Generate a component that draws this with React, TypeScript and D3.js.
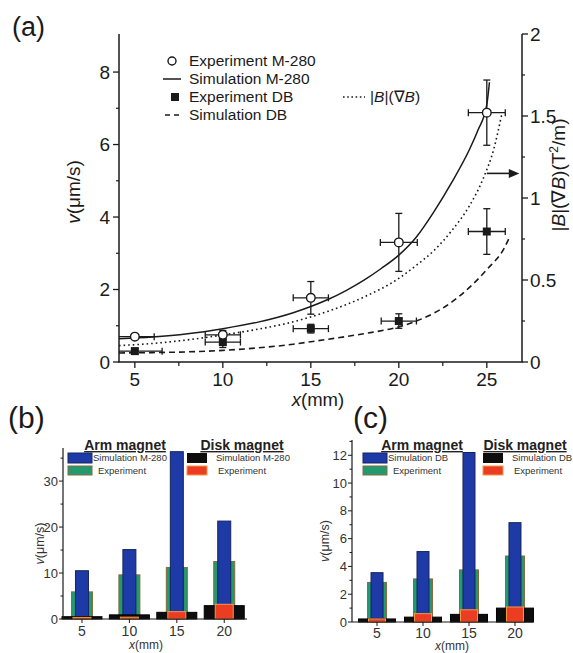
import React from "react";
import * as d3 from "d3";

// ---------- Panel (a) data ----------
const A_X_TICKS = [5, 10, 15, 20, 25];
const A_X_MINOR = [7.5, 12.5, 17.5, 22.5];
const A_LEFT_TICKS = [0, 2, 4, 6, 8];
const A_LEFT_MINOR = [1, 3, 5, 7];
const A_RIGHT_TICKS = [0, 0.5, 1, 1.5, 2];
const A_RIGHT_MINOR = [0.25, 0.75, 1.25, 1.75];

const EXP_X = [5, 10, 15, 20, 25];
const M280_Y = [0.7, 0.75, 1.77, 3.3, 6.88];
const M280_YERR = [0.06, 0.12, 0.45, 0.8, 0.9];
const M280_XERR = [1.1, 1.0, 1.0, 1.05, 1.05];
const DB_Y = [0.3, 0.55, 0.92, 1.13, 3.6];
const DB_YERR = [0.08, 0.15, 0.12, 0.2, 0.63];
const DB_XERR = [1.55, 1.0, 1.0, 1.0, 1.05];

const SIM_M280_X = [4.1, 6, 8, 10, 12, 14, 15, 16, 17, 18, 19, 20, 21, 22, 23, 24, 24.5, 25, 25.15];
const SIM_M280_Y = [0.64, 0.69, 0.78, 0.92, 1.1, 1.36, 1.53, 1.73, 1.97, 2.25, 2.58, 2.95, 3.45, 4.15, 4.95, 5.85, 6.4, 7.1, 7.72];
const BGRAD_X = [4.1, 6, 8, 10, 12, 14, 15, 16, 18, 20, 21, 22, 23, 24, 24.8, 25.4, 25.85];
const BGRAD_Y = [0.1, 0.113, 0.135, 0.165, 0.2, 0.245, 0.275, 0.31, 0.395, 0.51, 0.59, 0.68, 0.8, 0.95, 1.12, 1.3, 1.51];
const SIM_DB_X = [4.1, 6, 8, 10, 12, 14, 15, 16, 18, 20, 21, 22, 23, 24, 25, 26, 26.3];
const SIM_DB_Y = [0.25, 0.26, 0.28, 0.32, 0.39, 0.49, 0.56, 0.63, 0.78, 0.97, 1.13, 1.35, 1.65, 2.05, 2.55, 3.15, 3.45];

// ---------- Panel (b) data ----------
const BAR_X = [5, 10, 15, 20];
const B_ARM_SIM = [10.5, 15.1, 36.4, 21.3];
const B_ARM_EXP = [5.9, 9.6, 11.2, 12.5];
const B_DISK_SIM = [0.5, 0.9, 1.45, 2.9];
const B_DISK_EXP = [0.35, 0.4, 1.6, 3.2];
const B_Y_TICKS = [0, 10, 20, 30];
const B_Y_MINOR = [5, 15, 25, 35];

// ---------- Panel (c) data ----------
const C_ARM_SIM = [3.55, 5.07, 12.2, 7.15];
const C_ARM_EXP = [2.85, 3.1, 3.75, 4.75];
const C_DISK_SIM = [0.22, 0.35, 0.55, 1.0];
const C_DISK_EXP = [0.22, 0.6, 0.88, 1.08];
const C_Y_TICKS = [0, 2, 4, 6, 8, 10, 12];
const C_Y_MINOR = [1, 3, 5, 7, 9, 11, 13];

const FONT = "'Liberation Sans', Arial, Helvetica, sans-serif";
const INK = "#1a1a1a";

const COL_BLUE = "#1e3aa6";
const COL_BLUE_STROKE = "#16245e";
const COL_GREEN = "#23996f";
const COL_GREEN_STROKE = "#8a6a3a";
const COL_BLACK = "#0d0d0d";
const COL_RED = "#ec3d22";
const COL_RED_STROKE = "#f59a4a";

function PanelA() {
  const x = d3.scaleLinear().domain([4.1, 27]).range([119, 522]);
  const yL = d3.scaleLinear().domain([0, 9.05]).range([362, 34]);
  const yR = d3.scaleLinear().domain([0, 2]).range([362, 34]);

  const mkPath = (xs: number[], ys: number[], sc: d3.ScaleLinear<number, number>) =>
    d3
      .line<number>()
      .x((d, i) => x(xs[i]))
      .y((d) => sc(d))
      .curve(d3.curveMonotoneX)(ys) || "";

  const xMin = 4.1;
  const errBars = (ys: number[], yerr: number[], xerr: number[], key: string) =>
    EXP_X.map((xv, i) => {
      const cx = x(xv);
      const cy = yL(ys[i]);
      const y1 = yL(ys[i] + yerr[i]);
      const y2 = yL(ys[i] - yerr[i]);
      const xl = Math.max(xMin, xv - xerr[i]);
      const x1 = x(xl);
      const x2 = x(xv + xerr[i]);
      return (
        <g key={key + i} stroke={INK} strokeWidth={1.3}>
          <line x1={cx} x2={cx} y1={y1} y2={y2} />
          <line x1={cx - 3.5} x2={cx + 3.5} y1={y1} y2={y1} />
          <line x1={cx - 3.5} x2={cx + 3.5} y1={y2} y2={y2} />
          <line x1={x1} x2={x2} y1={cy} y2={cy} />
          {xl > xMin && <line x1={x1} x2={x1} y1={cy - 3.5} y2={cy + 3.5} />}
          <line x1={x2} x2={x2} y1={cy - 3.5} y2={cy + 3.5} />
        </g>
      );
    });

  const arrowY = yR(1.15);

  return (
    <g fontFamily={FONT} fill={INK}>
      <text x={12} y={36} fontSize={27}>(a)</text>

      {/* curves */}
      <path d={mkPath(SIM_M280_X, SIM_M280_Y, yL)} fill="none" stroke={INK} strokeWidth={1.5} />
      <path d={mkPath(BGRAD_X, BGRAD_Y, yR)} fill="none" stroke={INK} strokeWidth={1.6} strokeDasharray="1.6,3" />
      <path d={mkPath(SIM_DB_X, SIM_DB_Y, yL)} fill="none" stroke={INK} strokeWidth={1.6} strokeDasharray="6,4" />

      {/* error bars and markers */}
      {errBars(DB_Y, DB_YERR, DB_XERR, "db")}
      {errBars(M280_Y, M280_YERR, M280_XERR, "m")}
      {EXP_X.map((xv, i) => (
        <rect key={"sq" + i} x={x(xv) - 4} y={yL(DB_Y[i]) - 4} width={8} height={8} fill={INK} />
      ))}
      {EXP_X.map((xv, i) => (
        <circle key={"c" + i} cx={x(xv)} cy={yL(M280_Y[i])} r={4.3} fill="#fff" stroke={INK} strokeWidth={1.4} />
      ))}

      {/* axes */}
      <g stroke={INK} strokeWidth={1.5} fill="none">
        <line x1={x(4.1)} x2={x(4.1)} y1={yL(0)} y2={34} />
        <line x1={x(27)} x2={x(27)} y1={yL(0)} y2={34} />
        <line x1={x(4.1) - 0.75} x2={x(27) + 0.75} y1={yL(0)} y2={yL(0)} />
      </g>
      {A_LEFT_TICKS.map((t) => (
        <g key={"lt" + t}>
          <line x1={113} x2={119} y1={yL(t)} y2={yL(t)} stroke={INK} strokeWidth={1.3} />
          <text x={110} y={yL(t) + 6.5} fontSize={19} textAnchor="end">{t}</text>
        </g>
      ))}
      {A_LEFT_MINOR.map((t) => (
        <line key={"lm" + t} x1={116} x2={119} y1={yL(t)} y2={yL(t)} stroke={INK} strokeWidth={1.2} />
      ))}
      {A_RIGHT_TICKS.map((t) => (
        <g key={"rt" + t}>
          <line x1={522} x2={528} y1={yR(t)} y2={yR(t)} stroke={INK} strokeWidth={1.3} />
          <text x={530} y={yR(t) + 6.5} fontSize={19}>{t}</text>
        </g>
      ))}
      {A_RIGHT_MINOR.map((t) => (
        <line key={"rm" + t} x1={522} x2={525} y1={yR(t)} y2={yR(t)} stroke={INK} strokeWidth={1.2} />
      ))}
      {A_X_TICKS.map((t) => (
        <g key={"xt" + t}>
          <line x1={x(t)} x2={x(t)} y1={362} y2={368} stroke={INK} strokeWidth={1.3} />
          <text x={x(t)} y={386} fontSize={19} textAnchor="middle">{t}</text>
        </g>
      ))}
      {A_X_MINOR.map((t) => (
        <line key={"xm" + t} x1={x(t)} x2={x(t)} y1={362} y2={366} stroke={INK} strokeWidth={1.2} />
      ))}

      {/* axis titles */}
      <text x={318} y={406} fontSize={18.5} textAnchor="middle">
        <tspan fontStyle="italic">x</tspan>(mm)
      </text>
      <text transform="translate(80,192) rotate(-90)" fontSize={19} textAnchor="middle">
        <tspan fontStyle="italic">v</tspan>(μm/s)
      </text>
      <text transform="translate(565,175) rotate(-90)" fontSize={19} textAnchor="middle">
        |<tspan fontStyle="italic">B</tspan>|(∇<tspan fontStyle="italic">B</tspan>)(T<tspan dy={-7} fontSize={12}>2</tspan><tspan dy={7}>/m)</tspan>
      </text>

      {/* arrow */}
      <line x1={x(25.0)} x2={x(26.5)} y1={arrowY} y2={arrowY} stroke={INK} strokeWidth={1.6} />
      <path
        d={`M${x(26.85)},${arrowY} L${x(26.25)},${arrowY - 4.5} L${x(26.25)},${arrowY + 4.5} Z`}
        fill={INK}
      />

      {/* legend */}
      <circle cx={172} cy={61} r={4} fill="#fff" stroke={INK} strokeWidth={1.4} />
      <text x={189} y={66} fontSize={15.5}>Experiment M-280</text>
      <line x1={163} x2={181} y1={79} y2={79} stroke={INK} strokeWidth={1.5} />
      <text x={189} y={84} fontSize={15.5}>Simulation M-280</text>
      <rect x={171} y={93} width={8} height={8} fill={INK} />
      <text x={189} y={102} fontSize={15.5}>Experiment DB</text>
      <line x1={165} x2={182} y1={115} y2={115} stroke={INK} strokeWidth={1.6} strokeDasharray="5,4" />
      <text x={189} y={120} fontSize={15.5}>Simulation DB</text>
      <line x1={343} x2={365} y1={97} y2={97} stroke={INK} strokeWidth={1.4} strokeDasharray="1.6,2.6" />
      <text x={370} y={102} fontSize={15.5}>
        |<tspan fontStyle="italic">B</tspan>|(∇<tspan fontStyle="italic">B</tspan>)
      </text>
    </g>
  );
}

type BarPanelProps = {
  label: string;
  labelX: number;
  labelY: number;
  xDomain: [number, number];
  xRange: [number, number];
  yMax: number;
  yRange: [number, number];
  armSim: number[];
  armExp: number[];
  diskSim: number[];
  diskExp: number[];
  yTicks: number[];
  yMinor: number[];
  simName: string;
  widths: { black: number; green: number; blue: number; red: number };
  yLabelX: number;
  xLabelX: number;
  xLabelY: number;
  tickLabelY: number;
  legend: { armX: number; diskX: number; armSwX: number; diskSwX: number };
};

function BarPanel(p: BarPanelProps) {
  const x = d3.scaleLinear().domain(p.xDomain).range(p.xRange);
  const y = d3.scaleLinear().domain([0, p.yMax]).range(p.yRange);
  const y0 = y(0);
  const w = p.widths;
  const bar = (vals: number[], width: number, fill: string, stroke: string, key: string) =>
    BAR_X.map((xv, i) => (
      <rect
        key={key + i}
        x={x(xv) - width / 2}
        y={y(vals[i])}
        width={width}
        height={y0 - y(vals[i])}
        fill={fill}
        stroke={stroke}
        strokeWidth={1}
      />
    ));
  const L = p.legend;
  return (
    <g fontFamily={FONT} fill={INK}>
      <text x={p.labelX} y={p.labelY} fontSize={30}>{p.label}</text>
      {bar(p.armExp, w.green, COL_GREEN, COL_GREEN_STROKE, "g")}
      {bar(p.armSim, w.blue, COL_BLUE, COL_BLUE_STROKE, "b")}
      {bar(p.diskSim, w.black, COL_BLACK, "#000", "k")}
      {bar(p.diskExp, w.red, COL_RED, COL_RED_STROKE, "r")}

      {/* axes */}
      <g stroke={INK} strokeWidth={1.2}>
        <line x1={p.xRange[0]} x2={p.xRange[0]} y1={y0} y2={p.yRange[1]} />
        <line x1={p.xRange[0]} x2={p.xRange[1]} y1={y0} y2={y0} />
      </g>
      {p.yTicks.map((t) => (
        <g key={"yt" + t}>
          <line x1={p.xRange[0] - 4} x2={p.xRange[0]} y1={y(t)} y2={y(t)} stroke={INK} strokeWidth={1} />
          <text x={p.xRange[0] - 5} y={y(t) + 4.5} fontSize={13} textAnchor="end" fill="#333">{t}</text>
        </g>
      ))}
      {p.yMinor.map((t) => (
        <line key={"ym" + t} x1={p.xRange[0] - 2.5} x2={p.xRange[0]} y1={y(t)} y2={y(t)} stroke={INK} strokeWidth={1} />
      ))}
      {BAR_X.map((t) => (
        <g key={"xt" + t}>
          <line x1={x(t)} x2={x(t)} y1={y0} y2={y0 + 4} stroke={INK} strokeWidth={1} />
          <text x={x(t)} y={p.tickLabelY} fontSize={14} textAnchor="middle" fill="#333">{t}</text>
        </g>
      ))}
      <text x={p.xLabelX} y={p.xLabelY} fontSize={12} textAnchor="middle" fill="#333">
        <tspan fontStyle="italic">x</tspan>(mm)
      </text>
      <text
        transform={`translate(${p.yLabelX},${(y0 + p.yRange[1]) / 2 + 10}) rotate(-90)`}
        fontSize={12.5}
        textAnchor="middle"
        fill="#333"
      >
        <tspan fontStyle="italic">v</tspan>(μm/s)
      </text>

      {/* legend */}
      <text x={L.armX} y={450} fontSize={14} fontWeight="bold" textAnchor="middle" textDecoration="underline" fill="#222">
        Arm magnet
      </text>
      <text x={L.diskX} y={450} fontSize={14} fontWeight="bold" textAnchor="middle" textDecoration="underline" fill="#222">
        Disk magnet
      </text>
      <rect x={L.armSwX} y={453} width={24} height={10} fill={COL_BLUE} stroke={COL_BLUE_STROKE} />
      <text x={L.armSwX + 25} y={461} fontSize={9.5} fill="#333">{p.simName}</text>
      <rect x={L.armSwX} y={466} width={24} height={9} fill={COL_GREEN} stroke={COL_GREEN_STROKE} />
      <text x={L.armSwX + 30} y={474} fontSize={9.5} fill="#333">Experiment</text>
      <rect x={L.diskSwX} y={453} width={20} height={10} fill={COL_BLACK} />
      <text x={L.diskSwX + 29} y={461} fontSize={9.5} fill="#333">{p.simName}</text>
      <rect x={L.diskSwX} y={466} width={20} height={9} fill={COL_RED} stroke={COL_RED_STROKE} />
      <text x={L.diskSwX + 31} y={474} fontSize={9.5} fill="#333">Experiment</text>
    </g>
  );
}

export default function App() {
  return (
    <svg
      width={573}
      height={653}
      viewBox="0 0 573 653"
      style={{ position: "absolute", left: 0, top: 0, background: "#fff" }}
    >
      <rect x={0} y={0} width={573} height={653} fill="#fff" />
      <PanelA />
      <BarPanel
        label="(b)"
        labelX={8}
        labelY={428}
        xDomain={[3.0, 22.4]}
        xRange={[63, 247]}
        yMax={37.2}
        yRange={[619, 448]}
        armSim={B_ARM_SIM}
        armExp={B_ARM_EXP}
        diskSim={B_DISK_SIM}
        diskExp={B_DISK_EXP}
        yTicks={B_Y_TICKS}
        yMinor={B_Y_MINOR}
        simName="Simulation M-280"
        widths={{ black: 40, green: 21, blue: 13, red: 18 }}
        yLabelX={44}
        xLabelX={146}
        xLabelY={649}
        tickLabelY={636}
        legend={{ armX: 125, diskX: 242, armSwX: 68, diskSwX: 187 }}
      />
      <BarPanel
        label="(c)"
        labelX={353}
        labelY={428}
        xDomain={[2.28, 21.96]}
        xRange={[352, 533]}
        yMax={13.1}
        yRange={[622, 440]}
        armSim={C_ARM_SIM}
        armExp={C_ARM_EXP}
        diskSim={C_DISK_SIM}
        diskExp={C_DISK_EXP}
        yTicks={C_Y_TICKS}
        yMinor={C_Y_MINOR}
        simName="Simulation DB"
        widths={{ black: 37, green: 19, blue: 12, red: 17 }}
        yLabelX={329}
        xLabelX={452}
        xLabelY={650}
        tickLabelY={638}
        legend={{ armX: 422, diskX: 525, armSwX: 363, diskSwX: 483 }}
      />
    </svg>
  );
}
